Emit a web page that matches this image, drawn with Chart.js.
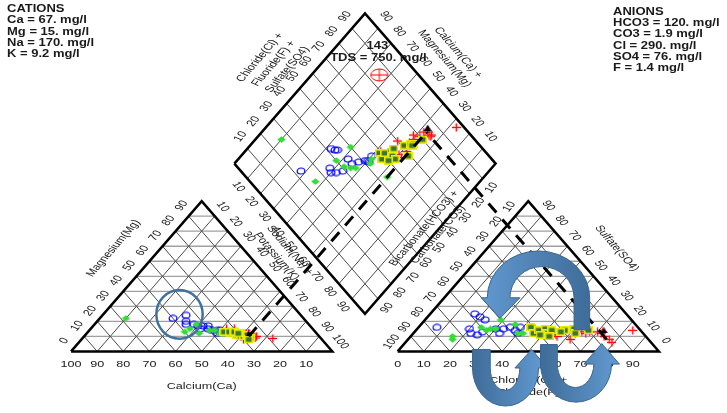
<!DOCTYPE html>
<html>
<head>
<meta charset="utf-8">
<script src="https://cdn.jsdelivr.net/npm/chart.js@4"></script>
<style>
  html, body { margin: 0; padding: 0; background: #fff; }
  #wrap { width: 727px; height: 413px; }
</style>
</head>
<body>
<div id="wrap"><canvas id="piper" width="727" height="413"></canvas></div>
<script>
// Piper diagram, values in percent of meq/l

// open blue circles
const blueCa  = [50, 44, 46, 47, 44, 43, 41, 39, 43, 40, 39, 37, 36, 36, 38];
const blueMg  = [22, 24, 20, 18, 18, 17, 17, 17, 15, 15, 14, 14, 13, 14, 12];
const blueCl  = [7, 17, 20, 23, 20, 22, 25, 26, 30, 33, 33, 35, 38, 39, 40];
const blueSO4 = [16, 25, 23, 21, 15, 12, 11, 13, 15, 12, 15, 16, 14, 16, 12];

// green diamonds
const greenCa  = [68, 50, 47, 43, 40, 38, 37, 36, 27, 45];
const greenMg  = [22, 13, 15, 18, 14, 14, 12, 12, 10, 12];
const greenCl  = [16, 17, 24, 29, 28, 30, 36, 40, 42, 27];
const greenSO4 = [10, 8, 16, 21, 15, 15, 18, 12, 12, 14];

// yellow-edged squares
const yellowCa  = [35, 33, 33, 32, 31, 31, 30, 29, 29, 28, 27, 27, 30, 28];
const yellowMg  = [13, 12, 13, 12, 11, 13, 10, 12, 10, 10, 11, 9, 12, 8];
const yellowCl  = [43, 46, 47, 49, 51, 52, 53, 57, 60, 60, 62, 66, 49, 56];
const yellowSO4 = [16, 12, 14, 15, 12, 14, 10, 14, 14, 15, 12, 14, 11, 13];

// red crosses
const redCa  = [18.5, 33, 30, 30, 28, 28, 27, 26, 26, 25, 26, 30, 25, 30, 26, 24];
const redMg  = [8.6, 15, 15, 10, 10, 12, 12, 12, 12, 10, 11, 11, 9, 8, 10, 10];
const redCl  = [83, 45, 56, 55, 56, 62, 64, 67, 70, 72, 72, 66, 74, 62, 77, 79];
const redSO4 = [14, 15, 14, 11, 10, 12, 13, 13, 13, 12, 13, 12, 10, 8, 8, 6];

// black marker
const blackCa  = [26];
const blackMg  = [12];
const blackCl  = [72];
const blackSO4 = [14];

// projected sample (dashed lines)
const projCa  = [27];
const projMg  = [10];
const projCl  = [76];
const projSO4 = [8];

// sample 143, only shown in the diamond (Cl+F+SO4 %, Na+K %)
const hlAnion  = [85];
const hlCation = [26];
const hlLabel  = ['143', 'TDS = 750. mg/l'];

const cationText = ['CATIONS', 'Ca = 67. mg/l', 'Mg = 15. mg/l', 'Na = 170. mg/l', 'K = 9.2 mg/l'];
const anionText  = ['ANIONS', 'HCO3 = 120. mg/l', 'CO3 = 1.9 mg/l', 'Cl = 290. mg/l', 'SO4 = 76. mg/l', 'F = 1.4 mg/l'];

const caTicks   = [100, 90, 80, 70, 60, 50, 40, 30, 20, 10];
const mgTicks   = [0, 10, 20, 30, 40, 50, 60, 70, 80, 90];
const nakTicks  = [10, 20, 30, 40, 50, 60, 70, 80, 90, 100];
const clTicks   = [0, 10, 20, 30, 40, 50, 60, 70, 80, 90];
const hco3Ticks = [10, 20, 30, 40, 50, 60, 70, 80, 90, 100];
const so4Ticks  = [0, 10, 20, 30, 40, 50, 60, 70, 80, 90];
const dmdTicks  = [10, 20, 30, 40, 50, 60, 70, 80, 90];
const gridSteps = [10, 20, 30, 40, 50, 60, 70, 80, 90];

// geometry of the plot (unit = triangle side)
const H = Math.sqrt(3) / 2;
const GAP = 0.25;

function cationPt(ca, mg) {
    return { x: 1 - ca / 100 - mg / 200, y: mg / 100 * H };
}
function anionPt(cl, so4) {
    return { x: 1 + GAP + cl / 100 + so4 / 200, y: so4 / 100 * H };
}
function diamondPt(an, cat) {
    return {
        x: 0.5 + GAP / 2 + (an + cat) / 200,
        y: H + GAP * H + H * (an - cat) / 100
    };
}
const nak = (ca, mg) => 100 - ca - mg;
const anSum = (cl, so4) => cl + so4;

function samplePoints(ca, mg, cl, so4) {
    const pts = [];
    ca.forEach((c, i) => {
        pts.push(cationPt(c, mg[i]));
        pts.push(anionPt(cl[i], so4[i]));
        pts.push(diamondPt(anSum(cl[i], so4[i]), nak(c, mg[i])));
    });
    return pts;
}

// grid lines, NaN breaks the line between segments
const gap = { x: NaN, y: NaN };
function seg(list, a, b) { list.push(a, b, gap); }
const gridLight = [];
const gridDark = [];
gridSteps.forEach(v => {
    seg(gridLight, cationPt(100 - v, v), cationPt(0, v));
    seg(gridDark, cationPt(v, 0), cationPt(v, 100 - v));
    seg(gridDark, cationPt(100 - v, 0), cationPt(0, 100 - v));
    seg(gridLight, anionPt(0, v), anionPt(100 - v, v));
    seg(gridDark, anionPt(v, 0), anionPt(v, 100 - v));
    seg(gridDark, anionPt(100 - v, 0), anionPt(0, 100 - v));
    seg(gridDark, diamondPt(v, 0), diamondPt(v, 100));
    seg(gridDark, diamondPt(0, v), diamondPt(100, v));
});
const outline = [
    cationPt(100, 0), cationPt(0, 0), cationPt(0, 100), cationPt(100, 0), gap,
    anionPt(0, 0), anionPt(100, 0), anionPt(0, 100), anionPt(0, 0), gap,
    diamondPt(0, 0), diamondPt(100, 0), diamondPt(100, 100), diamondPt(0, 100), diamondPt(0, 0)
];

const projDiamond = diamondPt(anSum(projCl[0], projSO4[0]), nak(projCa[0], projMg[0]));
const projLines = [
    cationPt(projCa[0], projMg[0]), projDiamond, gap,
    anionPt(projCl[0], projSO4[0]), projDiamond
];
const hlPoint = [diamondPt(hlAnion[0], hlCation[0])];

// markers (the figure is stretched sideways, so are its symbols)
function makeMarker(w, h, draw) {
    const c = document.createElement('canvas');
    c.width = w; c.height = h;
    draw(c.getContext('2d'), w, h);
    return c;
}
const blueMarker = makeMarker(10, 8, (g) => {
    g.strokeStyle = '#0000ff'; g.lineWidth = 1.2;
    g.beginPath(); g.ellipse(5, 4, 3.9, 3, 0, 0, Math.PI * 2); g.stroke();
});
const greenMarker = makeMarker(9, 7, (g) => {
    g.fillStyle = '#33dd33';
    g.beginPath(); g.moveTo(4.5, 0.3); g.lineTo(8.7, 3.5); g.lineTo(4.5, 6.7); g.lineTo(0.3, 3.5); g.closePath(); g.fill();
});
const yellowMarker = makeMarker(9, 8, (g) => {
    g.fillStyle = '#eded00'; g.fillRect(0, 0, 9, 8);
    g.fillStyle = '#3a7630'; g.fillRect(1.6, 1.6, 5.8, 4.8);
});
const redMarker = makeMarker(9, 9, (g) => {
    g.strokeStyle = 'rgba(255,120,120,0.45)'; g.lineWidth = 3;
    g.beginPath(); g.moveTo(0.5, 4.5); g.lineTo(8.5, 4.5); g.moveTo(4.5, 0.5); g.lineTo(4.5, 8.5); g.stroke();
    g.strokeStyle = '#ff0000'; g.lineWidth = 1;
    g.beginPath(); g.moveTo(0, 4.5); g.lineTo(9, 4.5); g.moveTo(4.5, 0.5); g.lineTo(4.5, 8.5); g.stroke();
});
const blackMarker = makeMarker(7, 6, (g) => {
    g.fillStyle = '#000';
    g.beginPath(); g.moveTo(3.5, 0); g.lineTo(7, 6); g.lineTo(0, 6); g.closePath(); g.fill();
});
const hlMarker = makeMarker(20, 14, (g) => {
    g.strokeStyle = '#ff0000'; g.lineWidth = 1;
    g.beginPath(); g.ellipse(10, 7, 8.5, 6, 0, 0, Math.PI * 2);
    g.moveTo(1.5, 7); g.lineTo(18.5, 7); g.moveTo(10, 1); g.lineTo(10, 13); g.stroke();
});

// hand drawn annotations, in plot units
const circleNote = { cx: 0.415, cy: 0.2137, rx: 0.0887, ry: 0.1406 };
const archArrow = {
    outer: { cx: 1.789, cy: 0.309, rx: 0.196, ry: 0.270 },
    inner: { cx: 1.8025, cy: 0.309, rx: 0.1227, ry: 0.180 },
    footY: 0.124, headL: 1.570, headR: 1.718, tip: { x: 1.642, y: 0.191 }
};
const uArrows = [
    { outer: { cx: 1.6629, cy: -0.0956, rx: 0.1265, ry: 0.2193 },
      inner: { cx: 1.661, cy: -0.0956, rx: 0.0566, ry: 0.1294 },
      topY: 0.0112, headL: 1.6988, headR: 1.8233, tip: { x: 1.7629, y: 0.0112 } },
    { outer: { cx: 1.9328, cy: -0.0731, rx: 0.1359, ry: 0.2193 },
      inner: { cx: 1.9309, cy: -0.0731, rx: 0.0698, ry: 0.135 },
      topY: 0.0394, headL: 1.963, headR: 2.0989, tip: { x: 2.031, y: 0.045 } }
];

const TEXT_SX = 1.4;
const FONT = '9px "Liberation Sans", Arial, sans-serif';
const BOLD = 'bold 10px "Liberation Sans", Arial, sans-serif';
const INK = '#1a1a1a';

function text(ctx, lines, x, y, angle, font, align, lineH, sx) {
    if (!Array.isArray(lines)) lines = [lines];
    const k = sx || TEXT_SX;
    ctx.save();
    ctx.translate(x, y);
    ctx.scale(k, 1);
    ctx.rotate(Math.atan2(k * Math.sin(angle), Math.cos(angle)));
    ctx.font = font;
    ctx.fillStyle = INK;
    ctx.textAlign = align || 'center';
    ctx.textBaseline = 'middle';
    lines.forEach((t, i) => ctx.fillText(t, 0, (i - (lines.length - 1) / 2) * (lineH || 11.5)));
    ctx.restore();
}

const piperText = {
    id: 'piperText',
    afterDatasetsDraw(chart) {
        const ctx = chart.ctx;
        const xs = chart.scales.x, ys = chart.scales.y;
        const P = (p, dx, dy) => ({ x: xs.getPixelForValue(p.x) + dx, y: ys.getPixelForValue(p.y) + dy });
        const apex = P(cationPt(0, 100), 0, 0), base = P(cationPt(100, 0), 0, 0);
        const up = Math.atan2(apex.y - base.y, apex.x - base.x);   // left side direction
        const down = -up;

        const put = (p, dx, dy, s, ang) => { const q = P(p, dx, dy); text(ctx, s, q.x, q.y, ang, FONT); };

        caTicks.forEach(v => put(cationPt(v, 0), 0, 13, String(v), 0));
        mgTicks.forEach(v => put(cationPt(100 - v, v), -7, -10.5, String(v), up));
        nakTicks.forEach(v => put(cationPt(0, 100 - v), 8, -9.5, String(v), down));
        clTicks.forEach(v => put(anionPt(v, 0), 0, 13, String(v), 0));
        hco3Ticks.forEach(v => put(anionPt(0, 100 - v), -6, -9.5, String(v), up));
        so4Ticks.forEach(v => put(anionPt(100 - v, v), 7, -10.5, String(v), down));
        dmdTicks.forEach(v => {
            put(diamondPt(v, 0), -7, -12, String(v), up);
            put(diamondPt(100, 100 - v), 8, -12, String(v), down);
            put(diamondPt(0, v), -9, 8, String(v), down);
            put(diamondPt(100 - v, 100), 9, 9, String(v), up);
        });

        put(cationPt(50, 0), 0, 35, 'Calcium(Ca)', 0);
        put(cationPt(50, 50), -23, -28, 'Magnesium(Mg)', up);
        put(cationPt(0, 50), 16, -23, ['Sodium(Na) +', 'Potassium(K)'], down);
        put(anionPt(50, 0), 0, 35, ['Chloride(Cl) +', 'Fluoride(F)'], 0);
        put(anionPt(50, 50), 23, -28, 'Sulfate(SO4)', down);
        put(anionPt(0, 50), -32, -45, ['Bicarbonate(HCO3) +', 'Carbonate(CO3)'], up);
        put(diamondPt(50, 0), -26, -25, ['Chloride(Cl) +', 'Fluoride(F) +', 'Sulfate(SO4)'], up);
        put(diamondPt(100, 50), 21, -33, ['Calcium(Ca) +', 'Magnesium(Mg)'], down);

        const hl = P(hlPoint[0], 0, 0);
        text(ctx, hlLabel[0], hl.x - 2, hl.y - 29, 0, BOLD, 'center', 11, 1.3);
        text(ctx, hlLabel[1], hl.x - 1, hl.y - 17, 0, BOLD, 'center', 11, 1.3);

        cationText.forEach((t, i) => text(ctx, t, 7, 9.5 + i * 11.2, 0, BOLD, 'left', 11, 1.3));
        anionText.forEach((t, i) => text(ctx, t, 613, 12 + i * 11.3, 0, BOLD, 'left', 11, 1.3));
    },
    afterDraw(chart) {
        const ctx = chart.ctx;
        const xs = chart.scales.x, ys = chart.scales.y;
        const px = v => xs.getPixelForValue(v), py = v => ys.getPixelForValue(v);
        const kx = px(1) - px(0), ky = py(0) - py(1);
        const ell = e => ({ x: px(e.cx), y: py(e.cy), rx: e.rx * kx, ry: e.ry * ky });

        // circle in cation triangle
        const c = ell(circleNote);
        ctx.save();
        ctx.strokeStyle = '#41719c';
        ctx.lineWidth = 2.5;
        ctx.beginPath();
        ctx.ellipse(c.x, c.y, c.rx, c.ry, 0, 0, Math.PI * 2);
        ctx.stroke();

        // arch arrow, head on the left pointing down
        const o = ell(archArrow.outer), n = ell(archArrow.inner);
        const foot = py(archArrow.footY);
        let grad = ctx.createLinearGradient(o.x - o.rx, 0, o.x + o.rx, 0);
        grad.addColorStop(0, '#5f96cc');
        grad.addColorStop(1, '#3f6c99');
        ctx.beginPath();
        ctx.moveTo(o.x + o.rx, foot);
        ctx.lineTo(o.x + o.rx, o.y);
        ctx.ellipse(o.x, o.y, o.rx, o.ry, 0, 0, Math.PI, true);
        ctx.lineTo(px(archArrow.headL), o.y);
        ctx.lineTo(px(archArrow.tip.x), py(archArrow.tip.y));
        ctx.lineTo(px(archArrow.headR), o.y);
        ctx.lineTo(n.x - n.rx, n.y);
        ctx.ellipse(n.x, n.y, n.rx, n.ry, 0, Math.PI, Math.PI * 2, false);
        ctx.lineTo(n.x + n.rx, foot);
        ctx.closePath();
        ctx.fillStyle = grad;
        ctx.fill();
        ctx.lineWidth = 1;
        ctx.strokeStyle = '#3a6591';
        ctx.stroke();

        // U-turn arrows, head on the right pointing up
        uArrows.forEach(a => {
            const uo = ell(a.outer), ui = ell(a.inner);
            const top = py(a.topY);
            const g = ctx.createLinearGradient(uo.x - uo.rx, 0, uo.x + uo.rx, 0);
            g.addColorStop(0, '#3f6c99');
            g.addColorStop(1, '#5f96cc');
            ctx.beginPath();
            ctx.moveTo(uo.x - uo.rx, top);
            ctx.lineTo(uo.x - uo.rx, uo.y);
            ctx.ellipse(uo.x, uo.y, uo.rx, uo.ry, 0, Math.PI, 0, true);
            ctx.lineTo(px(a.headR), uo.y);
            ctx.lineTo(px(a.tip.x), py(a.tip.y));
            ctx.lineTo(px(a.headL), uo.y);
            ctx.lineTo(ui.x + ui.rx, ui.y);
            ctx.ellipse(ui.x, ui.y, ui.rx, ui.ry, 0, 0, Math.PI, false);
            ctx.lineTo(ui.x - ui.rx, top);
            ctx.closePath();
            ctx.fillStyle = g;
            ctx.fill();
            ctx.strokeStyle = '#3a6591';
            ctx.stroke();
        });
        ctx.restore();
    }
};

function markerSet(label, data, style, order) {
    return { label: label, data: data, pointStyle: style, pointRadius: 4, showLine: false, order: order };
}
function lineSet(label, data, color, width, order, dash) {
    return {
        label: label, data: data, showLine: true, pointRadius: 0, borderColor: color,
        borderWidth: width, borderDash: dash || [], borderJoinStyle: 'miter', fill: false, order: order
    };
}

new Chart(document.getElementById('piper'), {
    type: 'scatter',
    data: {
        datasets: [
            lineSet('projection', projLines, '#000', 3, 1, [12, 9]),
            markerSet('143', hlPoint, hlMarker, 2),
            markerSet('black', samplePoints(blackCa, blackMg, blackCl, blackSO4), blackMarker, 3),
            markerSet('yellow', samplePoints(yellowCa, yellowMg, yellowCl, yellowSO4), yellowMarker, 4),
            markerSet('red', samplePoints(redCa, redMg, redCl, redSO4), redMarker, 5),
            markerSet('green', samplePoints(greenCa, greenMg, greenCl, greenSO4), greenMarker, 6),
            markerSet('blue', samplePoints(blueCa, blueMg, blueCl, blueSO4), blueMarker, 7),
            lineSet('outline', outline, '#000', 2.5, 10),
            lineSet('grid', gridDark, '#4a4a4a', 1, 20),
            lineSet('grid light', gridLight, '#a0a0a0', 1.3, 21)
        ]
    },
    options: {
        responsive: false,
        devicePixelRatio: 1,
        animation: false,
        events: [],
        layout: { padding: 0 },
        plugins: { legend: { display: false }, tooltip: { enabled: false } },
        scales: {
            x: { type: 'linear', display: false, min: -0.2529, max: 2.4915 },
            y: { type: 'linear', display: false, min: -0.3262, max: 1.9966 }
        }
    },
    plugins: [piperText]
});
</script>
</body>
</html>
